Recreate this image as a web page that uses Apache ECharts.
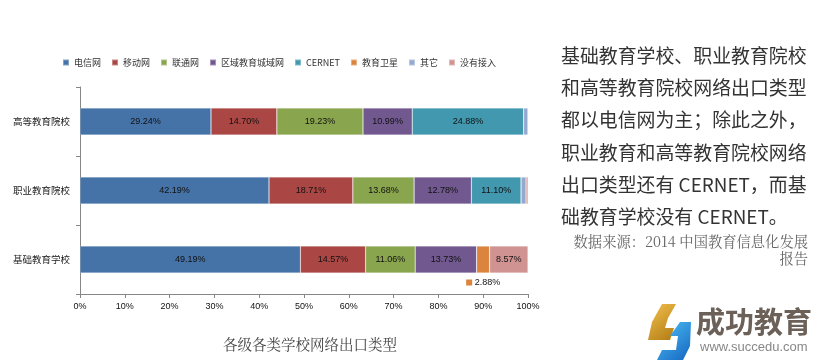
<!DOCTYPE html>
<html><head><meta charset="utf-8">
<script src="https://cdn.jsdelivr.net/npm/echarts@6/dist/echarts.min.js"></script>
<style>html,body{margin:0;padding:0;background:#fff}#c{width:828px;height:362px}</style>
</head><body><div id="c"></div>
<script>
const categories = ['基础教育学校', '职业教育院校', '高等教育院校'];
const seriesNames = ['电信网', '移动网', '联通网', '区域教育城域网', 'CERNET', '教育卫星', '其它', '没有接入'];
const telecom   = [49.19, 42.19, 29.24];
const mobile    = [14.57, 18.71, 14.70];
const unicom    = [11.06, 13.68, 19.23];
const regional  = [13.73, 12.78, 10.99];
const cernet    = [0,     11.10, 24.88];
const satellite = [2.88,  0,     0];
const other     = [0,     1.10,  0.96];
const noAccess  = [8.57,  0.44,  0];
const xTicks = ['0%','10%','20%','30%','40%','50%','60%','70%','80%','90%','100%'];
const colors = ['#4572A7','#AA4643','#89A54E','#71588F','#4198AF','#DB843D','#93A9CF','#D19392'];
const allValues = [telecom, mobile, unicom, regional, cernet, satellite, other, noAccess];

const numFont = 'Liberation Sans Narrow, Liberation Sans, sans-serif';
const cjk = 'Noto Sans CJK SC, sans-serif';

const series = seriesNames.map((name, si) => ({
  name, type: 'bar', stack: 'total', barWidth: 27,
  itemStyle: { color: colors[si], borderColor: 'rgba(255,255,255,0.35)', borderWidth: 0.6 },
  data: allValues[si].map(v => {
    const item = { value: v };
    if (v >= 5) {
      item.label = { show: true, position: 'inside', color: '#111', fontSize: 9, fontFamily: numFont,
        formatter: p => p.value.toFixed(2) + '%' };
    } else if (name === '教育卫星' && v > 0) {
      item.label = { show: true, position: 'bottom', distance: 5, color: '#111', fontSize: 9, fontFamily: numFont,
        formatter: p => '{sq|} ' + p.value.toFixed(2) + '%',
        rich: { sq: { backgroundColor: colors[si], width: 6, height: 6 } } };
    } else {
      item.label = { show: false };
    }
    return item;
  })
}));

const chart = echarts.init(document.getElementById('c'), null, { renderer: 'canvas' });
const rightLines = ['基础教育学校、职业教育院校', '和高等教育院校网络出口类型', '都以电信网为主；除此之外，',
  '职业教育和高等教育院校网络', '出口类型还有 CERNET，而基', '础教育学校没有 CERNET。'];
const graphics = rightLines.map((t, i) => ({
  type: 'text', left: 561, top: 46 + i * 32.3,
  style: { text: t, fontSize: 18.9, fontFamily: cjk, fill: '#333' }
}));
graphics.push(
  { type: 'text', right: 20, top: 234, style: { text: '数据来源：2014 中国教育信息化发展', fontSize: 14.3, fontFamily: 'Noto Serif CJK SC, serif', fill: '#666' } },
  { type: 'text', right: 20, top: 251, style: { text: '报告', fontSize: 14.3, fontFamily: 'Noto Serif CJK SC, serif', fill: '#666' } },
  { type: 'text', left: 223, top: 337, style: { text: '各级各类学校网络出口类型', fontSize: 14.5, fontFamily: 'Noto Serif CJK SC, serif', fill: '#444' } },
  { type: 'polygon', shape: { points: [[662,304],[676,304],[668,318],[665,328],[674,328],[670,340],[648,340],[652,322]] },
    style: { fill: new echarts.graphic.LinearGradient(0,0,1,1,[{offset:0,color:'#f2c14e'},{offset:1,color:'#b07a12'}]) } },
  { type: 'polygon', shape: { points: [[680,322],[691,322],[690,346],[683,360],[657,360],[662,350],[676,350],[678,336],[670,336]] },
    style: { fill: new echarts.graphic.LinearGradient(0,0,1,1,[{offset:0,color:'#4fc3f7'},{offset:1,color:'#1565c0'}]) } },
  { type: 'text', left: 696, top: 307, style: { text: '成功教育', fontSize: 29, fontWeight: 'bold', fontFamily: cjk, fill: '#6b6158' } },
  { type: 'text', left: 700, top: 341, style: { text: 'www.succedu.com', fontSize: 13, fontFamily: 'Liberation Sans, sans-serif', fill: '#888' } }
);

chart.setOption({
  animation: false,
  color: colors,
  legend: {
    left: 62, top: 58, padding: 0, itemWidth: 6, itemHeight: 6, itemGap: 10, icon: 'rect',
    textStyle: { fontSize: 9, color: '#333', fontFamily: cjk },
    data: seriesNames
  },
  grid: { left: 80, right: 300, top: 87, bottom: 68, containLabel: false },
  xAxis: {
    type: 'value', min: 0, max: 100, interval: 10,
    axisLine: { show: true, lineStyle: { color: '#868686' } },
    axisTick: { show: true, length: 4, lineStyle: { color: '#868686' } },
    splitLine: { show: false },
    axisLabel: { fontSize: 9, color: '#111', fontFamily: numFont, margin: 8,
      formatter: v => xTicks[Math.round(v / 10)] }
  },
  yAxis: {
    type: 'category', data: categories,
    axisLine: { show: true, lineStyle: { color: '#868686' } },
    axisTick: { show: true, length: 4, lineStyle: { color: '#868686' } },
    axisLabel: { fontSize: 9.5, color: '#222', fontFamily: cjk, margin: 10 }
  },
  series,
  graphic: graphics
});
</script></body></html>
